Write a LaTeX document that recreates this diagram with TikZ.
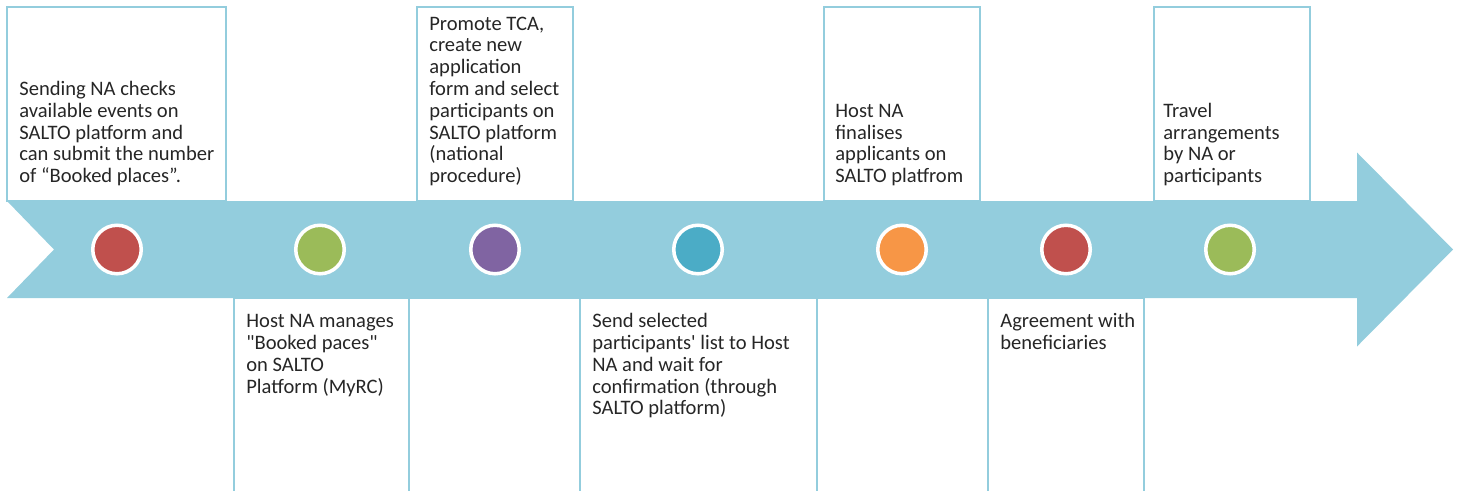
\documentclass[tikz,border=0pt]{standalone}
\usepackage{fontspec}
\setmainfont{Carlito}
\usepackage{tikz}
\usetikzlibrary{positioning}
\definecolor{bandblue}{HTML}{93CDDD}
\definecolor{dotred}{HTML}{C0504D}
\definecolor{dotgreen}{HTML}{9BBB59}
\definecolor{dotpurple}{HTML}{8064A2}
\definecolor{dotteal}{HTML}{4BACC6}
\definecolor{dotorange}{HTML}{F79646}
\tikzstyle{stepframe} = [rectangle, draw=bandblue, line width=1.1pt, inner sep=0pt, outer sep=0pt]
\tikzstyle{topframe}  = [stepframe, minimum height=3.88cm, anchor=south west]
\tikzstyle{lowframe}  = [stepframe, minimum height=4.1cm, anchor=north west]
\tikzstyle{steptext}  = [align=left, inner sep=0pt, text=black!85, font=\fontsize{11.7pt}{12.4pt}\selectfont]
\tikzstyle{toptext}   = [steptext, text depth=0.1cm, anchor=south west, yshift=0.26cm]
\tikzstyle{lowtext}   = [steptext, anchor=north west, yshift=-0.284cm]
\tikzstyle{dot}       = [circle, draw=white, line width=2pt, minimum size=0.97cm, inner sep=0pt]

\begin{document}
\begin{tikzpicture}
            \useasboundingbox (0,4.99) rectangle (29.22,-4.81);
            %Create frames above the band
            \node (top_1) [topframe, minimum width=4.38cm] at (0.14,0.97)  {};
            \node (top_3) [topframe, minimum width=3.12cm] at (8.34,0.97)  {};
            \node (top_5) [topframe, minimum width=3.12cm] at (16.48,0.97) {};
            \node (top_7) [topframe, minimum width=3.12cm] at (23.08,0.97) {};
            %Create frames below the band
            \node (low_2) [lowframe, minimum width=3.50cm] at (4.68,-0.97) {};
            \node (low_3) [lowframe, minimum width=3.42cm, right=0cm of low_2] {};
            \node (low_4) [lowframe, minimum width=4.74cm, right=0cm of low_3] {};
            \node (low_5) [lowframe, minimum width=3.42cm, right=0cm of low_4] {};
            \node (low_6) [lowframe, minimum width=3.12cm, right=0cm of low_5] {};
            %Band with notched tail and arrow head
            \fill [bandblue] (0.14,0.97) -- (27.14,0.97) -- (27.14,1.94) -- (29.06,0)
                  -- (27.14,-1.94) -- (27.14,-0.97) -- (0.14,-0.97) -- (1.08,0) -- cycle;
            %Milestone dots
            \node (dot_1) [dot, fill=dotred]    at (2.34,0)  {};
            \node (dot_2) [dot, fill=dotgreen]  at (6.40,0)  {};
            \node (dot_3) [dot, fill=dotpurple] at (9.90,0)  {};
            \node (dot_4) [dot, fill=dotteal]   at (13.96,0) {};
            \node (dot_5) [dot, fill=dotorange] at (18.04,0) {};
            \node (dot_6) [dot, fill=dotred]    at (21.32,0) {};
            \node (dot_7) [dot, fill=dotgreen]  at (24.60,0) {};
            %Texts, bottom aligned above and top aligned below
            \node (txt_1) [toptext, xshift=0.24cm] at (top_1.south west)
                  {Sending NA checks\\available events on\\SALTO platform and\\can submit the number\\of “Booked places”.};
            \node (txt_3) [toptext, xshift=0.24cm] at (top_3.south west)
                  {Promote TCA,\\create new\\application\\form and select\\participants on\\SALTO platform\\(national\\procedure)};
            \node (txt_5) [toptext, xshift=0.22cm] at (top_5.south west)
                  {Host NA\\finalises\\applicants on\\SALTO platfrom};
            \node (txt_7) [toptext, xshift=0.18cm] at (top_7.south west)
                  {Travel\\arrangements\\by NA or\\participants};
            \node (txt_2) [lowtext, xshift=0.24cm] at (low_2.north west)
                  {\strut Host NA manages\\\textquotedbl Booked paces\textquotedbl\\on SALTO\\Platform (MyRC)};
            \node (txt_4) [lowtext, xshift=0.24cm] at (low_4.north west)
                  {\strut Send selected\\participants\textquotesingle{} list to Host\\NA and wait for\\confirmation (through\\SALTO platform)};
            \node (txt_6) [lowtext, xshift=0.24cm] at (low_6.north west)
                  {\strut Agreement with\\beneficiaries};
\end{tikzpicture}
\end{document}
